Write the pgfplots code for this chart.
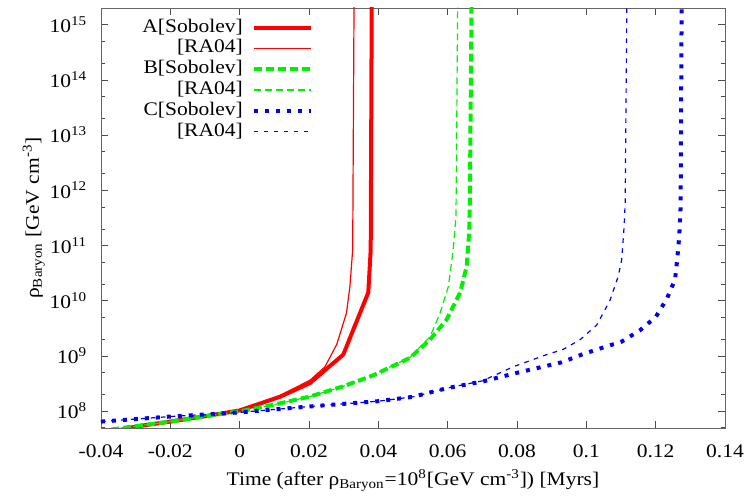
\documentclass[border=0pt]{standalone}
\usepackage{fontspec}
\setmainfont{Liberation Serif}[FakeStretch=1.12]
\usepackage{pgfplots}
\pgfplotsset{compat=1.18}

\definecolor{myred}{RGB}{255,0,0}
\definecolor{mygreen}{RGB}{0,240,0}
\definecolor{myblue}{RGB}{0,0,245}

\begin{document}
\fontsize{9.6}{11}\selectfont
\begin{tikzpicture}
\begin{axis}[
    scale only axis,
    width=312pt, height=210pt,
    ymode=log,
    xmin=-0.04, xmax=0.14,
    ymin=4.9e7, ymax=2e15,
    xtick={-0.04,-0.02,0,0.02,0.04,0.06,0.08,0.1,0.12,0.14},
    xticklabels={-0.04,-0.02,0,0.02,0.04,0.06,0.08,0.1,0.12,0.14},
    ytick={1e8,1e9,1e10,1e11,1e12,1e13,1e14,1e15},
    yticklabels={10\textsuperscript{8},10\textsuperscript{9},10\textsuperscript{10},10\textsuperscript{11},10\textsuperscript{12},10\textsuperscript{13},10\textsuperscript{14},10\textsuperscript{15}},
    minor ytick={5e7,2e8,5e8,2e9,5e9,2e10,5e10,2e11,5e11,2e12,5e12,2e13,5e13,2e14,5e14},
    major tick length=3.5pt, minor tick length=2pt,
    axis line style={black!60},
    tick style={black!70},
    xticklabel style={yshift=-5pt},
    yticklabel style={xshift=-3.5pt},
    xlabel={Time (after ρ\textsubscript{Baryon}=10\textsuperscript{8}[GeV cm\textsuperscript{-3}]) [Myrs]},
    ylabel={ρ\textsubscript{Baryon} [GeV cm\textsuperscript{-3}]},
    xlabel style={at={(rel axis cs:0.5,0)}, anchor=base, yshift=-29pt},
    ylabel style={at={(rel axis cs:0,0.5)}, anchor=base, rotate=0, yshift=31pt},
    legend plot pos=right,
    legend cell align=right,
    legend image code/.code={\draw[#1] (0pt,0pt) -- (28.5pt,0pt);},
    legend style={draw=none, fill=none, at={(rel axis cs:0.340,0.979)}, anchor=north east,
        row sep=0pt, column sep=4.5pt, inner sep=0pt,
        nodes={inner sep=0pt, text height=7.4pt, text depth=3pt}},
]
% A
\addplot[myred, line width=2pt] coordinates {
(-0.036,4.3e7) (-0.03,5.2e7) (-0.02,6.4e7) (-0.01,8.0e7) (0,1.02e8) (0.0116,1.8e8)
(0.0203,3.2e8) (0.0299,1.05e9) (0.0371,1.4e10) (0.0378,8.3e10) (0.0381,3e15)
};
\addlegendentry{A[Sobolev]}
\addplot[myred, line width=0.6pt] coordinates {
(-0.036,4.3e7) (-0.03,5.2e7) (-0.02,6.4e7) (-0.01,8.0e7) (0,1.02e8) (0.0116,1.9e8)
(0.0203,3.6e8) (0.0246,6.3e8) (0.028,1.6e9) (0.0308,5.9e9) (0.0318,1.8e10)
(0.0326,8.3e10) (0.033,3e15)
};
\addlegendentry{[RA04]}
% B
\addplot[mygreen, line width=2pt, dash pattern=on 4pt off 2pt] coordinates {
(-0.037,4.6e7) (-0.03,5.3e7) (-0.02,6.4e7) (-0.01,8.0e7) (0,9.8e7) (0.01,1.3e8)
(0.02,1.8e8) (0.03,2.8e8) (0.0385,4.4e8) (0.0491,9.1e8) (0.0549,1.95e9)
(0.0597,4.5e9) (0.0636,1.4e10) (0.0655,4.2e10) (0.0662,1.7e11) (0.0664,6.8e11)
(0.0669,3e15)
};
\addlegendentry{B[Sobolev]}
\addplot[mygreen, line width=0.6pt, dash pattern=on 3.5pt off 2pt] coordinates {
(-0.037,4.6e7) (-0.03,5.3e7) (-0.02,6.4e7) (-0.01,8.0e7) (0,9.8e7) (0.01,1.3e8)
(0.02,1.8e8) (0.03,2.8e8) (0.0385,4.5e8) (0.0491,9.3e8) (0.0549,2.2e9)
(0.0578,5.9e9) (0.0602,1.8e10) (0.0616,8.3e10) (0.0624,3.4e11) (0.0629,3e15)
};
\addlegendentry{[RA04]}
% C
\addplot[myblue, line width=2pt, dash pattern=on 2pt off 3.5pt] coordinates {
(-0.04,6.4e7) (-0.02,7.9e7) (0,9.4e7) (0.02,1.2e8) (0.04,1.5e8) (0.05,1.8e8)
(0.06,2.6e8) (0.07,3.4e8) (0.08,4.9e8) (0.0929,7.6e8) (0.0987,1.05e9)
(0.1044,1.38e9) (0.1102,1.8e9) (0.1155,2.9e9) (0.12,5e9) (0.1232,1.07e10)
(0.1256,2.4e10) (0.1262,5.5e10) (0.1268,1.45e11) (0.1272,5e11) (0.1275,3e15)
};
\addlegendentry{C[Sobolev]}
\addplot[myblue, line width=0.6pt, dash pattern=on 2.3pt off 2.7pt] coordinates {
(-0.04,6.4e7) (-0.02,7.9e7) (0,9.4e7) (0.02,1.2e8) (0.04,1.5e8) (0.05,1.8e8)
(0.06,2.6e8) (0.07,3.5e8) (0.0789,6.3e8) (0.0886,1.05e9) (0.0933,1.3e9)
(0.0982,1.95e9) (0.103,3.6e9) (0.1068,1e10) (0.1092,2.75e10) (0.1102,5.5e10)
(0.1109,2.2e11) (0.1112,5.9e11) (0.1117,3e15)
};
\addlegendentry{[RA04]}
\end{axis}
\pgfresetboundingbox
\path ([xshift=-50.5pt,yshift=-34.5pt]current axis.south west)
  rectangle ([xshift=11pt,yshift=4pt]current axis.north east);
\end{tikzpicture}
\end{document}
